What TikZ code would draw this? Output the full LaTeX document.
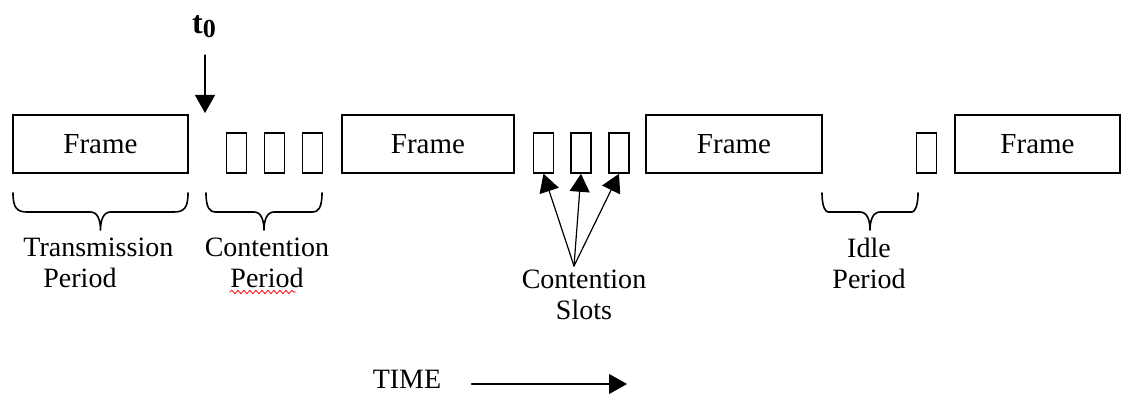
\documentclass[tikz,border=0pt]{standalone}
\usepackage{fontspec}
\setmainfont{Liberation Serif}
\usetikzlibrary{arrows.meta,decorations.pathmorphing}
\tikzset{
  frm/.style={draw, line width=0.8pt, minimum width=#1, minimum height=29pt, inner sep=0pt, font=\fontsize{14.5}{15.5}\selectfont},
  frm/.default=87.5pt,
  slt/.style={draw, line width=0.8pt, minimum width=10pt, minimum height=20pt, inner sep=0pt},
  lbl/.style={inner sep=0pt, align=center, font=\fontsize{14}{15.5}\selectfont},
  brc/.style={line width=0.8pt, line join=round},
}
\begin{document}
\begin{tikzpicture}[x=0.5pt, y=-0.5pt, line cap=round, >={Triangle[length=9pt,width=10pt]}]
  \useasboundingbox (0,0) rectangle (1122,394);
  % frames and slots
  \foreach \n/\x/\w in {f1/100.5/87.5pt, f2/428/86pt, f3/734/88pt, f4/1037.5/82.5pt}
    \node[frm=\w] (\n) at (\x,144) {Frame};
  \foreach \n/\x in {c1/236.5, c2/274.5, c3/312.5, s1/543.5, s2/581, s3/619, i1/926.5}
    \node[slt] (\n) at (\x,153) {};
  % t0 marker
  \node[inner sep=0pt, font=\bfseries\fontsize{16}{16}\selectfont] (t0) at (204,27) {t\raisebox{-2pt}{\fontsize{13}{13}\selectfont 0}};
  \path (205,55) coordinate (ts) (205,113) coordinate (tz);
  \draw[->, line width=0.6pt] (ts) -- (tz);
  % braces
  \foreach \a/\b/\r in {13/188/14, 206/322/9, 822/918/6}
    \draw[brc] (\a,193) .. controls (\a,208) and (\a+4,212) .. (\a+\r,212)
      -- ({(\a+\b)/2-10},212) .. controls ({(\a+\b)/2-3},212) and ({(\a+\b)/2},220) .. ({(\a+\b)/2},230)
      .. controls ({(\a+\b)/2},220) and ({(\a+\b)/2+3},212) .. ({(\a+\b)/2+10},212)
      -- (\b-\r,212) .. controls (\b-4,212) and (\b,208) .. (\b,193);
  % labels
  \node[lbl, align=left, anchor=west] (tp) at (23,263) {Transmission\\\hspace*{10pt}Period};
  \node[lbl] (cp) at (267,263) {Contention\\Period};
  \node[lbl] (sl) at (584,295) {Contention\\Slots};
  \node[lbl] (ip) at (869,263) {Idle\\Period};
  \draw[red, line width=0.4pt, decorate, decoration={snake, amplitude=0.8pt, segment length=3pt}] (230,292) -- (296,292);
  % slot arrows
  \coordinate (cs0) at (574,266);
  \foreach \s in {s1,s2,s3}
    \draw[->, line width=0.6pt] (cs0) -- (\s.south);
  % time axis
  \node[lbl] (time) at (407,379) {TIME};
  \coordinate (tend) at (627,384);
  \draw[->, line width=0.6pt, shorten <=15pt] (time.east |- tend) -- (tend);
\end{tikzpicture}
\end{document}
